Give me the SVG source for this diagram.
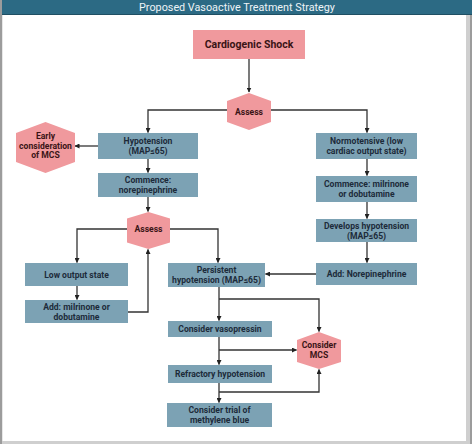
<svg xmlns="http://www.w3.org/2000/svg" width="474" height="444" viewBox="0 0 474 444">
<style>
.bx{fill:#7ca2b4}
.pk{fill:#f0999d}
.t{font-family:Roboto,"Liberation Sans",sans-serif;font-weight:bold;font-size:8.6px;fill:#1d2b3a;text-anchor:middle}
.tp{font-family:Roboto,"Liberation Sans",sans-serif;font-weight:bold;font-size:8.6px;fill:#3a1416;text-anchor:middle}
.ln{fill:none;stroke:#333;stroke-width:1.3}
</style>
<defs>
<marker id="ah" viewBox="0 0 10 10" refX="9" refY="5" markerWidth="5" markerHeight="5" orient="auto" markerUnits="userSpaceOnUse">
<path d="M0,0L10,5L0,10z" fill="#222"/>
</marker>
</defs>
<rect x="0" y="0" width="474" height="444" fill="#fff"/>
<rect x="0" y="0" width="472" height="444" fill="#9c9c9c"/>
<rect x="2" y="14" width="468" height="430" fill="#cfcfcf"/>
<rect x="2.5" y="14" width="463.5" height="427" fill="#fff"/>
<rect x="2" y="0" width="470" height="15" fill="#2c6a84"/>
<rect x="2" y="14" width="470" height="1" fill="#1f4f63"/>
<text x="237" y="11" font-family="Roboto,'Liberation Sans',sans-serif" font-size="10.8" fill="#eef4f7" text-anchor="middle">Proposed Vasoactive Treatment Strategy</text>

<g id="connectors">
<path class="ln" d="M249,59V92" marker-end="url(#ah)"/>
<path class="ln" d="M227,110H148V132.5" marker-end="url(#ah)"/>
<path class="ln" d="M271,110H367V132.5" marker-end="url(#ah)"/>
<path class="ln" d="M98,146H75" marker-end="url(#ah)"/>
<path class="ln" d="M148,159V172.5" marker-end="url(#ah)"/>
<path class="ln" d="M148,197V211.5" marker-end="url(#ah)"/>
<path class="ln" d="M127,229H77V262.5" marker-end="url(#ah)"/>
<path class="ln" d="M170,229H218V262.5" marker-end="url(#ah)"/>
<path class="ln" d="M77,286V299.5" marker-end="url(#ah)"/>
<path class="ln" d="M128,312H148V249.5" marker-end="url(#ah)"/>
<path class="ln" d="M367,159V175.5" marker-end="url(#ah)"/>
<path class="ln" d="M367,202V218.5" marker-end="url(#ah)"/>
<path class="ln" d="M367,242V262.5" marker-end="url(#ah)"/>
<path class="ln" d="M316,274H265.5" marker-end="url(#ah)"/>
<path class="ln" d="M219,287V320.5" marker-end="url(#ah)"/>
<path class="ln" d="M219,299H319V331.5" marker-end="url(#ah)"/>
<path class="ln" d="M219,337V364.5" marker-end="url(#ah)"/>
<path class="ln" d="M219,350H296.5" marker-end="url(#ah)"/>
<path class="ln" d="M219,383V402.5" marker-end="url(#ah)"/>
<path class="ln" d="M219,392H319V369.5" marker-end="url(#ah)"/>
</g>

<g id="cardiogenic-shock">
<rect class="pk" x="193" y="30" width="112" height="29"/>
<text x="249" y="48" font-family="Roboto,'Liberation Sans',sans-serif" font-weight="bold" font-size="10.5" fill="#3a1416" text-anchor="middle">Cardiogenic Shock</text>
</g>
<g id="assess-1">
<polygon class="pk" points="249,93 271,101 271,122 249,130 227,122 227,101"/>
<text class="tp" x="249" y="114.5">Assess</text>
</g>
<g id="early-mcs">
<polygon class="pk" points="45.5,122 75,133 75,162 45.5,173 16,162 16,133"/>
<text class="tp" x="45.5" y="139">Early</text>
<text class="tp" x="45.5" y="148.7">consideration</text>
<text class="tp" x="45.5" y="158.4">of  MCS</text>
</g>
<g id="hypotension">
<rect class="bx" x="98" y="133" width="100" height="26"/>
<text class="t" x="148" y="144">Hypotension</text>
<text class="t" x="148" y="154">(MAP≤65)</text>
</g>
<g id="commence-norepinephrine">
<rect class="bx" x="98" y="173" width="100" height="24"/>
<text class="t" x="148" y="183">Commence:</text>
<text class="t" x="148" y="193">norepinephrine</text>
</g>
<g id="assess-2">
<polygon class="pk" points="148.5,212 170,218.5 170,242.5 148.5,249 127,242.5 127,218.5"/>
<text class="tp" x="148.5" y="232">Assess</text>
</g>
<g id="low-output">
<rect class="bx" x="25" y="263" width="103" height="23"/>
<text class="t" x="76.5" y="277.5">Low output state</text>
</g>
<g id="add-milrinone">
<rect class="bx" x="25" y="300" width="103" height="23"/>
<text class="t" x="76.5" y="309.5">Add:  milrinone or</text>
<text class="t" x="76.5" y="319.5">dobutamine</text>
</g>
<g id="persistent-hypotension">
<rect class="bx" x="168" y="263" width="97" height="24"/>
<text class="t" x="216.5" y="273">Persistent</text>
<text class="t" x="216.5" y="283">hypotension (MAP≤65)</text>
</g>
<g id="consider-vasopressin">
<rect class="bx" x="168" y="321" width="104" height="16"/>
<text class="t" x="220" y="332">Consider vasopressin</text>
</g>
<g id="refractory-hypotension">
<rect class="bx" x="168" y="365" width="104" height="18"/>
<text class="t" x="220" y="377">Refractory hypotension</text>
</g>
<g id="methylene-blue">
<rect class="bx" x="167" y="403" width="105" height="24"/>
<text class="t" x="219.5" y="413">Consider trial of</text>
<text class="t" x="219.5" y="423">methylene blue</text>
</g>
<g id="consider-mcs">
<polygon class="pk" points="319,332 341,340 341,362 319,369 297,362 297,340"/>
<text class="tp" x="319" y="348">Consider</text>
<text class="tp" x="319" y="357.5">MCS</text>
</g>
<g id="normotensive">
<rect class="bx" x="316" y="133" width="101" height="26"/>
<text class="t" x="366.5" y="144">Normotensive (low</text>
<text class="t" x="366.5" y="154">cardiac output state)</text>
</g>
<g id="commence-milrinone">
<rect class="bx" x="316" y="176" width="101" height="26"/>
<text class="t" x="366.5" y="187">Commence: milrinone</text>
<text class="t" x="366.5" y="197">or dobutamine</text>
</g>
<g id="develops-hypotension">
<rect class="bx" x="316" y="219" width="101" height="23"/>
<text class="t" x="366.5" y="228.5">Develops hypotension</text>
<text class="t" x="366.5" y="238.5">(MAP≤65)</text>
</g>
<g id="add-norepinephrine">
<rect class="bx" x="316" y="263" width="101" height="22"/>
<text class="t" x="366.5" y="277">Add: Norepinephrine</text>
</g>
</svg>
